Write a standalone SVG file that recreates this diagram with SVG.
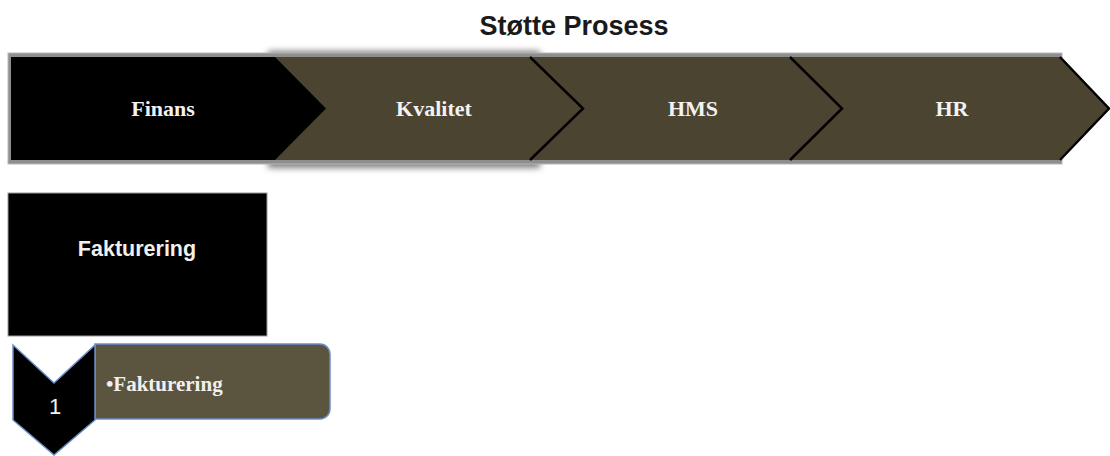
<svg xmlns="http://www.w3.org/2000/svg" width="1110" height="456" viewBox="0 0 1110 456">
  <defs>
    <filter id="soft" x="-10%" y="-20%" width="120%" height="140%">
      <feGaussianBlur stdDeviation="3"/>
    </filter>
    <style>
      .title { font-family: "Liberation Sans", Arial, sans-serif; font-weight: bold; font-size: 27px; fill: #1a1a1a; }
      .step { fill: #4a4430; }
      .edge { fill: none; stroke: #000; stroke-width: 2.5; stroke-linejoin: miter; }
      .serif { font-family: "Liberation Serif", "Times New Roman", serif; font-weight: bold; font-size: 22px; fill: #f2f2f2; }
      .sans { font-family: "Liberation Sans", Arial, sans-serif; font-size: 22px; fill: #f2f2f2; }
    </style>
  </defs>

  <rect width="1110" height="456" fill="#ffffff"/>

  <!-- heading -->
  <text class="title" x="574" y="35" text-anchor="middle">Støtte Prosess</text>

  <!-- process bar backdrop -->
  <g id="bar-frame">
    <rect x="268" y="51" width="272" height="117" fill="#808080" filter="url(#soft)"/>
    <rect x="8" y="53" width="1054" height="111" fill="#8e8e8e" stroke="#b8b8b8" stroke-width="1"/>
  </g>

  <!-- process steps, drawn back to front -->
  <g id="step-hr">
    <polygon class="step" points="790,57 1060,57 1109,108.5 1060,160 790,160"/>
    <polyline class="edge" points="1060,57 1109,108.5 1060,160"/>
    <text class="serif" x="952" y="116" text-anchor="middle">HR</text>
  </g>
  <g id="step-hms">
    <polygon class="step" points="530,57 790,57 842,108.5 790,160 530,160"/>
    <polyline class="edge" points="790,57 842,108.5 790,160"/>
    <text class="serif" x="693" y="116" text-anchor="middle">HMS</text>
  </g>
  <g id="step-kvalitet">
    <polygon class="step" points="275,57 530,57 583,108.5 530,160 275,160"/>
    <polyline class="edge" points="530,57 583,108.5 530,160"/>
    <text class="serif" x="434" y="116" text-anchor="middle">Kvalitet</text>
  </g>
  <g id="step-finans">
    <polygon points="11,57 275,57 326,108.5 275,160 11,160" fill="#000"/>
    <text class="serif" x="163" y="116" text-anchor="middle">Finans</text>
  </g>

  <!-- detail box -->
  <g id="box-fakturering">
    <rect x="8" y="193" width="259" height="143" fill="#000" stroke="#9a9a9a" stroke-width="1"/>
    <text x="137" y="256" text-anchor="middle" font-family="'Liberation Sans', Arial, sans-serif" font-weight="bold" font-size="21.5" fill="#f0f0f0">Fakturering</text>
  </g>

  <!-- numbered item -->
  <g id="item-1">
    <path d="M95,344 H320 A10,10 0 0 1 330,354 V409 A10,10 0 0 1 320,419 H95 Z" fill="#5b5540" stroke="#6a8fc8" stroke-width="1.5"/>
    <text x="106" y="391" font-family="'Liberation Serif', 'Times New Roman', serif" font-weight="bold" font-size="21" fill="#f0f0f0">•Fakturering</text>
    <polygon points="13,345 54,383 95,345 95,420 54,455 13,420" fill="#000" stroke="#6a8fc8" stroke-width="1.5" stroke-linejoin="miter"/>
    <text class="sans" x="55" y="414" text-anchor="middle">1</text>
  </g>
</svg>
